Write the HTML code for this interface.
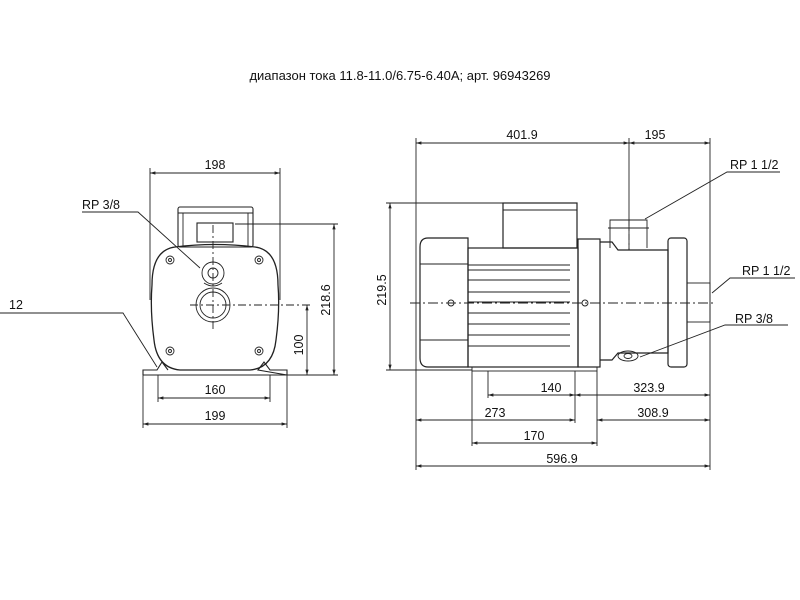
<!DOCTYPE html>
<html><head><meta charset="utf-8"><style>
body{margin:0;background:#fff;}
svg{display:block;}
text{font-family:"Liberation Sans",sans-serif;fill:#111;}
</style></head><body>
<svg width="800" height="600" viewBox="0 0 800 600" xmlns="http://www.w3.org/2000/svg">
<defs>
<marker id="a" viewBox="0 0 10 10" refX="10" refY="5" markerWidth="6" markerHeight="6" orient="auto-start-reverse"><path d="M0,2 L10,5 L0,8z" fill="#222"/></marker>
</defs>
<text x="400" y="80" font-size="13" text-anchor="middle">диапазон тока 11.8-11.0/6.75-6.40A; арт. 96943269</text>

<g stroke="#222" stroke-width="0.9" fill="none">
<!-- LEFT VIEW -->
<line x1="150" y1="168" x2="150" y2="300"/><line x1="280" y1="168" x2="280" y2="300"/>
<line x1="150" y1="173" x2="280" y2="173" marker-start="url(#a)" marker-end="url(#a)"/>
<rect x="178" y="207" width="75" height="40" rx="2" stroke-width="1.1"/>
<line x1="178" y1="213" x2="253" y2="213"/>
<line x1="183" y1="213" x2="183" y2="247"/><line x1="248" y1="213" x2="248" y2="247"/>
<rect x="197" y="223" width="36" height="19" stroke-width="1.1"/>
<path d="M175,247 Q215,242 255,247 Q278,250 278,285 Q280,310 276,340 Q273,368 250,370 L180,370 Q157,368 154,340 Q150,310 152,285 Q152,250 175,247 Z" stroke-width="1.3"/>
<circle cx="213" cy="273" r="11"/><circle cx="213" cy="273" r="5"/>
<circle cx="213" cy="305" r="17"/><circle cx="213" cy="305" r="13"/>
<path d="M204,283 Q213,289 222,283"/>
<circle cx="170" cy="260" r="4"/><circle cx="259" cy="260" r="4"/><circle cx="170" cy="351" r="4"/><circle cx="259" cy="351" r="4"/>
<circle cx="170" cy="260" r="1.5"/><circle cx="259" cy="260" r="1.5"/><circle cx="170" cy="351" r="1.5"/><circle cx="259" cy="351" r="1.5"/>
<path d="M143,375 L143,370 L157,370 L162,362 L168,370 M258,370 L264,362 L270,370 L287,370 L287,375 Z" stroke-width="1.1"/>
<line x1="143" y1="375" x2="287" y2="375"/>
<line x1="190" y1="305" x2="310" y2="305" stroke-dasharray="8,3,2,3"/>
<line x1="213" y1="225" x2="213" y2="330" stroke-dasharray="8,3,2,3"/>
<line x1="235" y1="224" x2="338" y2="224"/><line x1="287" y1="375" x2="338" y2="375"/>
<line x1="334" y1="224" x2="334" y2="375" marker-start="url(#a)" marker-end="url(#a)"/>
<line x1="307" y1="305" x2="307" y2="375" marker-start="url(#a)" marker-end="url(#a)"/>
<line x1="158" y1="375" x2="158" y2="402"/><line x1="270" y1="375" x2="270" y2="402"/>
<line x1="158" y1="398" x2="270" y2="398" marker-start="url(#a)" marker-end="url(#a)"/>
<line x1="143" y1="375" x2="143" y2="428"/><line x1="287" y1="375" x2="287" y2="428"/>
<line x1="143" y1="424" x2="287" y2="424" marker-start="url(#a)" marker-end="url(#a)"/>
<polyline points="0,313 123,313 157,367"/>
<polyline points="82,212 138,212 200,268"/>

<!-- RIGHT VIEW -->
<line x1="416" y1="138" x2="416" y2="470"/><line x1="710" y1="138" x2="710" y2="470"/>
<line x1="416" y1="143" x2="629" y2="143" marker-start="url(#a)" marker-end="url(#a)"/>
<line x1="629" y1="143" x2="710" y2="143" marker-start="url(#a)" marker-end="url(#a)"/>
<line x1="629" y1="138" x2="629" y2="250"/>
<path d="M428,238 L468,238 L468,367 L428,367 Q420,367 420,358 L420,247 Q420,238 428,238 Z" stroke-width="1.2"/>
<line x1="420" y1="264" x2="468" y2="264"/><line x1="420" y1="340" x2="468" y2="340"/>
<rect x="468" y="248" width="110" height="119" stroke-width="1.2"/>
<g stroke-width="1">
<line x1="468" y1="265" x2="570" y2="265"/><line x1="468" y1="270" x2="570" y2="270"/>
<line x1="468" y1="280" x2="570" y2="280"/><line x1="468" y1="292" x2="570" y2="292"/>
<line x1="468" y1="302" x2="570" y2="302"/><line x1="468" y1="313" x2="570" y2="313"/>
<line x1="468" y1="324" x2="570" y2="324"/><line x1="468" y1="335" x2="570" y2="335"/>
<line x1="468" y1="346" x2="570" y2="346"/>
</g>
<rect x="503" y="203" width="74" height="45" stroke-width="1.2"/>
<line x1="503" y1="210" x2="577" y2="210"/>
<rect x="578" y="239" width="22" height="128" stroke-width="1.2"/>
<path d="M600,242 L612,242 L618,250 L668,250 L668,353 L618,353 L612,360 L600,360" stroke-width="1.2"/>
<path d="M610,248 L610,220 L647,220 L647,248"/>
<line x1="608" y1="228" x2="649" y2="228"/>
<rect x="668" y="238" width="19" height="129" rx="3" stroke-width="1.2"/>
<rect x="687" y="283" width="23" height="39"/>
<ellipse cx="628" cy="356" rx="10" ry="5"/><ellipse cx="628" cy="356" rx="4" ry="2.5"/>
<rect x="472" y="367" width="125" height="4"/>
<circle cx="451" cy="303" r="3"/><circle cx="585" cy="303" r="3"/>
<line x1="410" y1="303" x2="715" y2="303" stroke-dasharray="10,3,2,3"/>
<line x1="629" y1="220" x2="629" y2="250" stroke-dasharray="6,3,2,3"/>
<line x1="386" y1="203" x2="503" y2="203"/><line x1="386" y1="370" x2="472" y2="370"/>
<line x1="390" y1="203" x2="390" y2="370" marker-start="url(#a)" marker-end="url(#a)"/>
<line x1="488" y1="371" x2="488" y2="398"/><line x1="575" y1="371" x2="575" y2="423"/>
<line x1="597" y1="371" x2="597" y2="446"/><line x1="472" y1="371" x2="472" y2="446"/>
<line x1="488" y1="395" x2="575" y2="395" marker-start="url(#a)" marker-end="url(#a)"/>
<line x1="575" y1="395" x2="710" y2="395" marker-start="url(#a)" marker-end="url(#a)"/>
<line x1="416" y1="420" x2="575" y2="420" marker-start="url(#a)" marker-end="url(#a)"/>
<line x1="597" y1="420" x2="710" y2="420" marker-start="url(#a)" marker-end="url(#a)"/>
<line x1="472" y1="443" x2="597" y2="443" marker-start="url(#a)" marker-end="url(#a)"/>
<line x1="416" y1="466" x2="710" y2="466" marker-start="url(#a)" marker-end="url(#a)"/>
<polyline points="780,172 727,172 645,219"/>
<polyline points="795,278 730,278 712,293"/>
<polyline points="788,325 725,325 640,357"/>
</g>

<g font-size="12.5">
<text x="215" y="169" text-anchor="middle">198</text>
<text x="82" y="209">RP 3/8</text>
<text x="9" y="309">12</text>
<text x="215" y="394" text-anchor="middle">160</text>
<text x="215" y="420" text-anchor="middle">199</text>
<text transform="translate(330,300) rotate(-90)" text-anchor="middle">218.6</text>
<text transform="translate(303,345) rotate(-90)" text-anchor="middle">100</text>
<text x="522" y="139" text-anchor="middle">401.9</text>
<text x="655" y="139" text-anchor="middle">195</text>
<text x="730" y="169">RP 1 1/2</text>
<text x="742" y="275">RP 1 1/2</text>
<text x="735" y="323">RP 3/8</text>
<text transform="translate(386,290) rotate(-90)" text-anchor="middle">219.5</text>
<text x="551" y="392" text-anchor="middle">140</text>
<text x="649" y="392" text-anchor="middle">323.9</text>
<text x="495" y="417" text-anchor="middle">273</text>
<text x="653" y="417" text-anchor="middle">308.9</text>
<text x="534" y="440" text-anchor="middle">170</text>
<text x="562" y="463" text-anchor="middle">596.9</text>
</g>
</svg>
</body></html>
